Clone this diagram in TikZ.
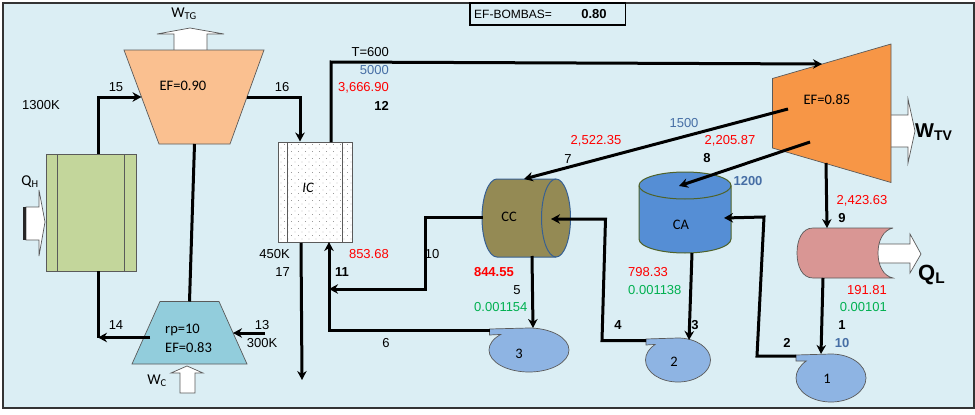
\documentclass[tikz,border=0pt]{standalone}
\usepackage{fontspec}
\setmainfont{Liberation Sans}
\newfontfamily\calib{Carlito}
\usetikzlibrary{shapes.geometric, arrows.meta, patterns, positioning}
\definecolor{panelblue}{RGB}{219, 238, 244}
\definecolor{edgegray}{RGB}{90, 90, 90}
\definecolor{valred}{RGB}{255, 0, 0}
\definecolor{valblue}{RGB}{70, 110, 165}
\definecolor{valgreen}{RGB}{0, 176, 80}
\definecolor{tgfill}{RGB}{250, 192, 144}
\definecolor{cmpfill}{RGB}{146, 205, 220}
\definecolor{tvfill}{RGB}{247, 150, 70}
\definecolor{hxfill}{RGB}{195, 214, 155}
\definecolor{ccfill}{RGB}{148, 138, 84}
\definecolor{ccedge}{RGB}{55, 96, 146}
\definecolor{cafill}{RGB}{85, 142, 213}
\definecolor{caedge}{RGB}{79, 98, 40}
\definecolor{cndfill}{RGB}{217, 150, 148}
\definecolor{pumpfill}{RGB}{142, 180, 227}
\pgfdeclarepatternformonly{icdots}{\pgfqpoint{-1pt}{-1pt}}{\pgfqpoint{7pt}{7pt}}{\pgfqpoint{7pt}{7pt}}{
  \pgfpathcircle{\pgfqpoint{1pt}{1pt}}{0.45pt}
  \pgfpathcircle{\pgfqpoint{4.5pt}{4.5pt}}{0.45pt}
  \pgfusepath{fill}}

\begin{document}
\begin{tikzpicture}[
      x=1pt, y=-1pt,
      lbl/.style      = {inner sep=0pt, font=\fontsize{13}{13}\selectfont},
      lbb/.style      = {lbl, font=\fontsize{13}{13}\selectfont\bfseries},
      lbr/.style      = {lbl, anchor=east},
      lbc/.style      = {inner sep=0pt, font=\fontsize{14.5}{15}\calib},
      lbw/.style      = {inner sep=0pt, font=\fontsize{15}{15}\calib},
      equip/.style    = {draw=edgegray, line width=0.7pt, inner sep=0pt, outer sep=0pt},
      workarrow/.style = {draw=edgegray, fill=white, line width=0.7pt},
      pipe/.style     = {line width=3pt, black},
      arrow/.style    = {pipe, -{Stealth[length=9pt, width=9.5pt]}}
    ]
    \useasboundingbox (0,0) rectangle (975,415);
    \draw[fill=panelblue, draw=black!80, line width=2pt] (3,3) rectangle (974,408);

    % Work arrows
    \draw[workarrow] (174,52) -- (174,34) -- (157,34) -- (190,28) -- (224,34) -- (207,34) -- (207,52) -- cycle;
    \draw[workarrow] (180,393) -- (180,373) -- (171,373) -- (187,366) -- (203,373) -- (195,373) -- (195,393) -- cycle;
    \draw[workarrow] (891,115) -- (908,115) -- (908,99) -- (915,131) -- (908,163) -- (908,147) -- (891,147);
    \draw[workarrow] (26,207) -- (39,207) -- (39,190) -- (45,222) -- (39,256) -- (39,240) -- (26,240) -- cycle;
    \fill[black!85] (23,207) rectangle (26,240);
    \draw[workarrow] (870,244) -- (910,244) -- (910,234) -- (921,254) -- (910,273) -- (910,263) -- (870,263) -- cycle;

    % Nodes
    \draw[equip, fill=tgfill] (124,50) -- (264,50) -- (230,144) -- (159,144) -- cycle;
    \draw[equip, fill=cmpfill] (160,301.5) -- (219,301.5) -- (247,364) -- (132,364) -- cycle;
    \draw[equip, fill=tvfill] (772.5,78.5) -- (891,44) -- (891,182.5) -- (772.5,148) -- cycle;
    \node[equip, rectangle, fill=hxfill, minimum width=90pt, minimum height=117pt] (hx) at (91,212.5) {};
    \node[equip, rectangle, preaction={fill=white}, pattern=icdots, pattern color=black!60,
          minimum width=74pt, minimum height=100pt] (ic) at (315,192) {};
    \draw[draw=ccedge, line width=1pt, fill=ccfill] (497,179) -- (556,179)
      arc[start angle=90, end angle=-90, x radius=14.5pt, y radius=39pt] -- (497,257)
      arc[start angle=270, end angle=90, x radius=15pt, y radius=39pt] -- cycle;
    \draw[draw=ccedge, line width=1pt] (556,179) arc[start angle=90, end angle=270, x radius=14.5pt, y radius=39pt];
    \draw[draw=caedge, line width=1pt, fill=cafill] (639,185.5) -- (639,239)
      arc[start angle=180, end angle=360, x radius=46pt, y radius=14pt] -- (731,185.5)
      arc[start angle=0, end angle=180, x radius=46pt, y radius=13.5pt] -- cycle;
    \draw[draw=caedge, line width=1pt] (639,185.5) arc[start angle=180, end angle=360, x radius=46pt, y radius=13.5pt];
    \draw[equip] (hx.north west) ++(11.5,0) -- ++(0,117) (hx.north east) ++(-11.5,0) -- ++(0,117);
    \draw[equip] (ic.north west) ++(9,0) -- ++(0,100) (ic.north east) ++(-9.5,0) -- ++(0,100);
    \draw[equip, fill=cndfill] (893,228) -- (813,228) .. controls (802,228) and (797,240) .. (797,253)
      .. controls (797,266) and (802,278) .. (813,278) -- (893,278)
      .. controls (883,276) and (878,265) .. (878,253) .. controls (878,241) and (883,230) .. (893,228);

    % Pumps
    \foreach \px/\py/\rx/\ry/\tabx/\lx/\ly/\pname in {529/350/40/22/489.5/519/354/3, 678/360/32.5/22/646/674/362/2, 831/378/35/24/796/827/379/1}{
      \draw[equip, fill=pumpfill] (\tabx,\py-\ry+1) -- (\px,\py-\ry)
        arc[start angle=90, end angle=-225, x radius=\rx pt, y radius=\ry pt]
        -- (\tabx,\py-\ry+7) -- cycle;
      \node[lbc] (pump\pname) at (\lx,\ly) {\pname};
    }

    % Ports
    \coordinate (tgw) at (141.5,97);
    \coordinate (tge) at (247,97);
    \coordinate (tgs) at (194.5,144);
    \coordinate (cmpn) at (189.5,301.5);
    \coordinate (cmpe) at (233,333);
    \coordinate (hxtop) at (98,154);
    \coordinate (hxbot) at (98,271);
    \coordinate (air14) at (98,337.5);
    \coordinate (cmp14) at (150,337.5);
    \coordinate (air13) at (265,333);
    \coordinate (icin) at (300,141.5);
    \coordinate (icout) at (301,243);
    \coordinate (stack) at (302,380);
    \coordinate (ic12) at (331,142);
    \coordinate (ic11) at (329,242);
    \coordinate (tv12) at (822,64);
    \coordinate (tv7) at (788,109);
    \coordinate (tv8) at (810,142);
    \coordinate (tv9) at (826,163);
    \coordinate (cc7) at (524,179);
    \coordinate (cc10) at (483,217);
    \coordinate (cc4) at (551,219);
    \coordinate (cc5) at (532,256);
    \coordinate (p35) at (533,328);
    \coordinate (p36) at (490,330.5);
    \coordinate (mix) at (329,289);
    \coordinate (p24) at (646,340.5);
    \coordinate (p23) at (689,340);
    \coordinate (ca8) at (679,186);
    \coordinate (ca3) at (692,253);
    \coordinate (ca2) at (724,218);
    \coordinate (p12) at (796,356);
    \coordinate (p11) at (821,354);
    \coordinate (cnd9) at (827,228);
    \coordinate (cnd1) at (823,278);

    % Relationships
    \draw[arrow] (hxtop) |- (tgw);
    \draw[arrow] (tge) -| (icin);
    \draw[pipe] (tgs) -- (cmpn);
    \draw[pipe] (hxbot) -- (air14);
    \draw[arrow] (cmp14) -- (air14);
    \draw[arrow] (air13) -- (cmpe);
    \draw[arrow] (icout) -- (stack);
    \draw[arrow] (ic12) -- (331,62) -- (tv12);
    \draw[arrow] (tv7) -- (cc7);
    \draw[arrow] (tv8) -- (ca8);
    \draw[arrow] (tv9) -- (cnd9);
    \draw[arrow] (cc10) -- (425,217) -- (425,289) -- (mix);
    \draw[arrow] (p36) -- (329,330.5) -- (ic11);
    \draw[arrow] (cc5) -- (p35);
    \draw[arrow] (p24) -- (602,340.5) -- (605.5,219) -- (cc4);
    \draw[arrow] (ca3) -- (p23);
    \draw[arrow] (p12) -- (757,356) -- (764,217) -- (ca2);
    \draw[arrow] (cnd1) -- (p11);

    % Texts
    \node[lbc] (eftg) at (183,86) {EF=0.90};
    \node[lbc, anchor=west] (rp) at (165,329.5) {rp=10};
    \node[lbc, anchor=west] (efc) at (165,348) {EF=0.83};
    \node[lbc] (eftv) at (827,100) {EF=0.85};
    \node[lbc] (cclbl) at (509,217) {CC};
    \node[lbc] (calbl) at (681,225) {CA};
    \node[lbc, font=\fontsize{14.5}{15}\calib\itshape] (iclbl) at (308,188) {IC};
    \node[lbw] (wtg) at (184,14) {W\textsubscript{TG}};
    \node[lbw] (wc) at (157,381) {W\textsubscript{C}};
    \node[lbw] (qh) at (30,182) {Q\textsubscript{H}};
    \node[lbl, font=\fontsize{20}{20}\selectfont\bfseries, anchor=west] (wtv) at (915,132) {W\textsubscript{TV}};
    \node[lbl, font=\fontsize{22}{22}\selectfont\bfseries, anchor=west] (ql) at (918,275) {Q\textsubscript{L}};

    \node[lbl] (t1300) at (41,105) {1300K};
    \node[lbl] (n15) at (116,87) {15};
    \node[lbl] (n16) at (282,87) {16};
    \node[lbl] (n14) at (116,325) {14};
    \node[lbl] (n13) at (262,325) {13};
    \node[lbl] (t300) at (262,343) {300K};
    \node[lbr] (t450) at (290,254) {450K};
    \node[lbr] (n17) at (290,272) {17};
    \node[lbr] (t600) at (389,52) {T=600};
    \node[lbr, text=valblue] (p12v) at (389,70) {5000};
    \node[lbr, text=valred] (h12) at (389,88) {3,666.90};
    \node[lbr, lbb] (n12) at (389,106) {12};
    \node[lbr, text=valred] (h11) at (389,254) {853.68};
    \node[lbb] (n11) at (342,272) {11};
    \node[lbl] (n10) at (432,254) {10};
    \node[lbl] (n6) at (386,343) {6};
    \node[lbl, text=valred] (h7) at (596,141) {2,522.35};
    \node[lbl] (n7) at (568,159) {7};
    \node[lbl, text=valblue] (p8v) at (684,123) {1500};
    \node[lbl, text=valred] (h8) at (730,141) {2,205.87};
    \node[lbb] (n8) at (707,158) {8};
    \node[lbb, text=valblue] (p3v) at (748,181.5) {1200};
    \node[lbr, lbb, text=valred] (h5) at (514,272) {844.55};
    \node[lbl] (n5) at (517,290) {5};
    \node[lbl, text=valgreen, anchor=west] (v5) at (474,307) {0.001154};
    \node[lbb] (n4) at (618,325) {4};
    \node[lbb] (n3) at (695,325) {3};
    \node[lbl, text=valred, anchor=west] (h3) at (628,272) {798.33};
    \node[lbl, text=valgreen, anchor=west] (v3) at (628,290) {0.001138};
    \node[lbl, text=valred] (h9) at (862,201) {2,423.63};
    \node[lbb] (n9) at (842,218) {9};
    \node[lbr, text=valred] (h1) at (887,290) {191.81};
    \node[lbr, text=valgreen] (v1) at (887,307) {0.00101};
    \node[lbb] (n1) at (842,325) {1};
    \node[lbb, text=valblue] (p1v) at (842,343) {10};
    \node[lbb] (n2) at (787,343) {2};

    % Pump efficiency box
    \draw[black, line width=1.2pt] (470,3) rectangle (625.5,25);
    \node[lbl, anchor=west, font=\fontsize{12}{12}\selectfont] (efb) at (474,14.5) {EF-BOMBAS=};
    \node[lbb] (efbv) at (594,14.5) {0.80};

  \end{tikzpicture}
\end{document}
